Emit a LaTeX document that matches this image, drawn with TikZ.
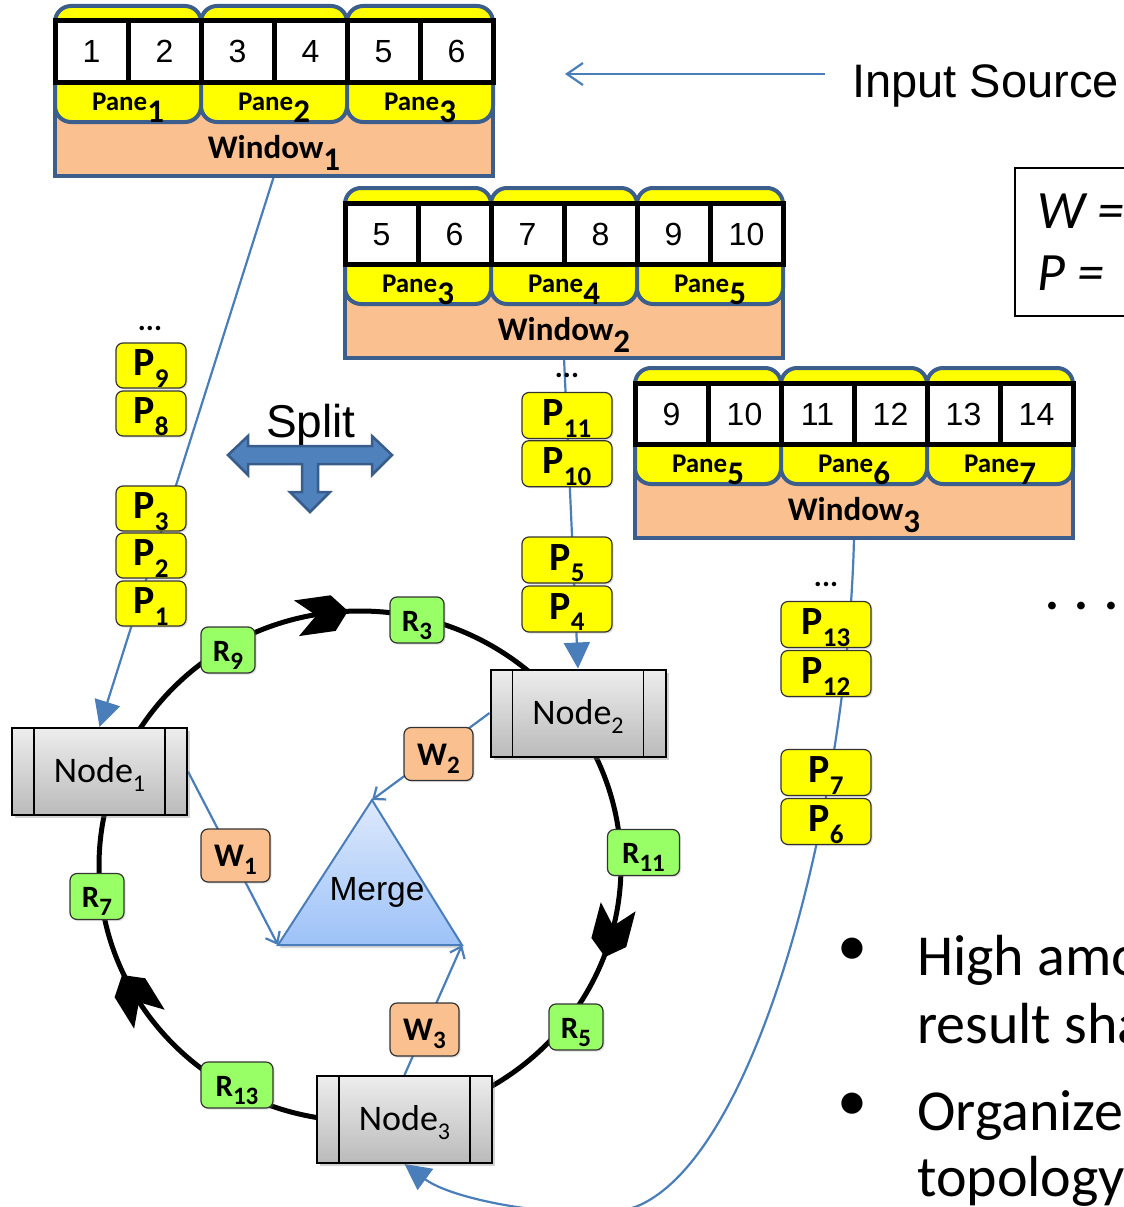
\documentclass[tikz,border=0pt]{standalone}
\usepackage{fontspec}
\setmainfont{Carlito}
\newfontfamily\arialfont{Liberation Sans}
\usetikzlibrary{arrows.meta,shadows,calc}

\definecolor{paneyellow}{HTML}{FFFF00}
\definecolor{paneblue}{HTML}{3B5E8C}
\definecolor{winorange}{HTML}{FAC090}
\definecolor{flowblue}{HTML}{4A7EBB}
\definecolor{rgreen}{HTML}{99FF66}
\definecolor{splitfill}{HTML}{4F81BD}
\definecolor{splitedge}{HTML}{385D8A}
\definecolor{mergetop}{HTML}{DDE9FC}
\definecolor{mergebot}{HTML}{9DC2F8}

\pgfdeclarelayer{back}
\pgfsetlayers{back,main}

% subscripts of the various labels
\newcommand\paneidx[1]{\raisebox{-12pt}{\fontsize{33}{33}\selectfont\bfseries #1}}
\newcommand\pkidx[1]{\raisebox{-11.5pt}{\fontsize{27}{27}\selectfont\bfseries #1}}
\newcommand\tagidx[1]{\raisebox{-8pt}{\fontsize{25}{25}\selectfont\bfseries #1}}
\newcommand\nodeidx[1]{\raisebox{-9pt}{\fontsize{24}{24}\selectfont #1}}

\tikzset{
  winrect/.style={draw=paneblue, line width=4pt, fill=winorange, minimum width=438pt,
    minimum height=110pt, inner sep=0pt, outer sep=0pt},
  panebox/.style={draw=paneblue, line width=4pt, fill=paneyellow, rounded corners=16pt},
  cellbox/.style={draw=black, line width=5pt, fill=white, minimum width=73pt,
    minimum height=61pt, inner sep=0pt, outer sep=0pt,
    font=\arialfont\fontsize{32}{32}\selectfont, text height=23pt, text depth=0pt},
  panelabel/.style={inner sep=0pt, font=\fontsize{27}{27}\selectfont\bfseries,
    text height=17pt, text depth=0pt},
  winlabel/.style={inner sep=0pt, font=\fontsize{33}{33}\selectfont\bfseries,
    text height=21pt, text depth=0pt},
  tagbase/.style={draw=black!80, line width=1.2pt, rounded corners=7pt, inner sep=0pt,
    drop shadow={opacity=0.25, shadow xshift=1.5pt, shadow yshift=-1.5pt}},
  pkt/.style={tagbase, fill=paneyellow, minimum width=70pt, minimum height=45pt,
    font=\fontsize{40}{40}\selectfont\bfseries, text height=25pt, text depth=5pt},
  pktwide/.style={pkt, minimum width=90pt, minimum height=46pt},
  res/.style={tagbase, fill=rgreen, minimum width=54pt, minimum height=46pt,
    font=\fontsize{31}{31}\selectfont\bfseries, text height=22pt, text depth=0pt},
  reswide/.style={res, minimum width=72pt},
  wres/.style={tagbase, fill=winorange, minimum width=69pt, minimum height=53pt,
    font=\fontsize{33}{33}\selectfont\bfseries, text height=22pt, text depth=0pt},
  proc/.style={draw=black, line width=2pt, top color=black!7, bottom color=black!27,
    minimum width=175pt, minimum height=87pt, inner sep=0pt,
    font=\fontsize{36}{36}\selectfont, text height=23pt, text depth=1pt,
    drop shadow={opacity=0.35, shadow xshift=3pt, shadow yshift=-3pt},
    path picture={
      \draw[line width=1.6pt] ([xshift=22pt]path picture bounding box.north west)
        -- ([xshift=22pt]path picture bounding box.south west);
      \draw[line width=1.6pt] ([xshift=-22pt]path picture bounding box.north east)
        -- ([xshift=-22pt]path picture bounding box.south east);
    }},
  ring/.style={draw=black, line width=5pt},
  flow/.style={draw=flowblue, line width=2.2pt},
  bigtip/.style={-{Triangle[length=26pt,width=26pt]}},
  opentip/.style={-{Straight Barb[length=10pt,width=16pt]}},
  srctip/.style={-{Straight Barb[length=16pt,width=22pt]}},
  dots/.style={inner sep=0pt, font=\fontsize{30}{30}\selectfont\bfseries},
  ringhead/.pic={\fill (0pt,0pt) -- (-15pt,18pt) -- (-52pt,18pt) -- (-32pt,0pt)
    -- (-52pt,-18pt) -- (-15pt,-18pt) -- cycle;}
}

% one sliding window: #1 name, #2 left x, #3 top y, #4 first pane, #5 window number
\newcommand{\timewindow}[5]{%
  \node[winrect, anchor=south west] (#1) at (#2,#3+170) {};
  \foreach \k in {0,1,2}{%
    \pgfmathtruncatemacro{\pn}{#4+\k}%
    \draw[panebox] ({#2+146*\k},#3) rectangle ({#2+146*(\k+1)},#3+116);
    \node[panelabel] (#1pane\k) at ({#2+73+146*\k},#3+96) {Pane\paneidx{\pn}};
  }
  \foreach \j in {0,...,5}{%
    \pgfmathtruncatemacro{\cn}{2*#4-1+\j}%
    \node[cellbox, anchor=north west] (#1cell\j) at ({#2+73*\j},#3+15) {\cn};
  }
  \node[winlabel] (#1label) at ({#2+219},#3+142) {Window\paneidx{#5}};
}

\begin{document}
\begin{tikzpicture}[x=1pt, y=-1pt]
\useasboundingbox (0,0) rectangle (1124,1207);
\clip (0,0) rectangle (1124,1207);

% sliding windows
\timewindow{w1}{55}{6}{1}{1}
\timewindow{w2}{345}{188}{3}{2}
\timewindow{w3}{635}{368}{5}{3}

% input source
\node[anchor=base west, inner sep=0pt, font=\arialfont\fontsize{47}{47}\selectfont]
  (src) at (852,97) {Input Source};
\coordinate (srcend) at (825,74);
\coordinate (srctip) at (565,74);

% W / P legend
\node[draw, line width=1.8pt, minimum width=160pt, minimum height=148pt, inner sep=0pt,
  outer sep=0pt, anchor=north west] (legend) at (1015,168) {};
\node[anchor=base west, inner sep=0pt, font=\fontsize{54}{54}\selectfont\itshape]
  (weq) at (1037,228) {W =};
\node[anchor=base west, inner sep=0pt, font=\fontsize{54}{54}\selectfont\itshape]
  (peq) at (1037,290) {P =};

% pane streams
\node[dots] (dotsa) at (150,328) {...};
\node[pkt] (p9) at (151,365.5) {P\pkidx{9}};
\node[pkt] (p8) at (151,413.5) {P\pkidx{8}};
\node[pkt] (p3) at (151,508.5) {P\pkidx{3}};
\node[pkt] (p2) at (151,555.5) {P\pkidx{2}};
\node[pkt] (p1) at (151,603.5) {P\pkidx{1}};

\node[dots] (dotsb) at (567,375) {...};
\node[pktwide] (p11) at (567,415.5) {P\pkidx{11}};
\node[pktwide] (p10) at (567,463.7) {P\pkidx{10}};
\node[pktwide] (p5) at (567,560) {P\pkidx{5}};
\node[pktwide] (p4) at (567,609) {P\pkidx{4}};

\node[dots] (dotsc) at (826,584) {...};
\node[pktwide] (p13) at (826,624.5) {P\pkidx{13}};
\node[pktwide] (p12) at (826,673.5) {P\pkidx{12}};
\node[pktwide] (p7) at (826,772.5) {P\pkidx{7}};
\node[pktwide] (p6) at (826,821.5) {P\pkidx{6}};

\node[anchor=base west, inner sep=0pt, font=\fontsize{52}{52}\selectfont\bfseries]
  (more) at (1045,609) {. . .};

% split symbol
\node[anchor=base, inner sep=0pt, font=\arialfont\fontsize{46}{46}\selectfont]
  (splitlbl) at (311,437) {Split};
\draw[fill=splitfill, draw=splitedge, line width=2.5pt]
  (228,455) -- (248,436) -- (248,446) -- (372,446) -- (372,436) -- (392,455)
  -- (372,475) -- (372,464) -- (318,464) -- (318,492) -- (330,492) -- (310,512)
  -- (290,492) -- (302,492) -- (302,464) -- (248,464) -- (248,475) -- cycle;

% processing nodes
\node[proc] (n1) at (99.5,771.5) {Node\nodeidx{1}};
\node[proc] (n2) at (578,713) {Node\nodeidx{2}};
\node[proc] (n3) at (404.5,1119.5) {Node\nodeidx{3}};

% results on the ring
\node[res] (r9) at (228,650) {R\tagidx{9}};
\node[res] (r3) at (417,620) {R\tagidx{3}};
\node[reswide] (r11) at (643.5,852.5) {R\tagidx{11}};
\node[res] (r5) at (576,1027) {R\tagidx{5}};
\node[reswide] (r13) at (237,1085) {R\tagidx{13}};
\node[res] (r7) at (97,896.5) {R\tagidx{7}};

% window results
\node[wres] (wa) at (235.5,855.5) {W\tagidx{1}};
\node[wres] (wb) at (438.5,754) {W\tagidx{2}};
\node[wres] (wc) at (424.5,1029.5) {W\tagidx{3}};

% ring direction marks
\pic[rotate=8] at (348,611) {ringhead};
\pic[rotate=-104.7] at (605,957) {ringhead};
\pic[rotate=121.8] at (122,975) {ringhead};

% merge triangle
\coordinate (mtop) at (372,800);
\coordinate (mleft) at (278,945);
\coordinate (mright) at (462,945);
\node[anchor=base, inner sep=0pt, font=\arialfont\fontsize{33.5}{33.5}\selectfont]
  (mergelbl) at (377,900) {Merge};

% bullets
\node[inner sep=0pt, font=\fontsize{60}{60}\selectfont] (b1) at (852,952) {\textbullet};
\node[inner sep=0pt, font=\fontsize{60}{60}\selectfont] (b2) at (852,1107) {\textbullet};
\node[anchor=base west, inner sep=0pt, font=\fontsize{58}{58}\selectfont] (t1) at (917,975) {High amo};
\node[anchor=base west, inner sep=0pt, font=\fontsize{58}{58}\selectfont] (t2) at (917,1043) {result sha};
\node[anchor=base west, inner sep=0pt, font=\fontsize{58}{58}\selectfont] (t3) at (917,1130) {Organize};
\node[anchor=base west, inner sep=0pt, font=\fontsize{58}{58}\selectfont] (t4) at (917,1196) {topology};

\begin{pgfonlayer}{back}
  \draw[ring] (360,866) ellipse [x radius=261pt, y radius=255pt];
  \path[draw=flowblue, line width=2pt, top color=mergetop, bottom color=mergebot,
    drop shadow={opacity=0.3, shadow xshift=2pt, shadow yshift=-3pt}]
    (mtop) -- (mright) -- (mleft) -- cycle;
  \draw[flow, bigtip] (w1.south) -- (n1.north);
  \draw[flow, bigtip] (w2.south) -- (n2.north);
  \draw[flow, bigtip] (w3.south) .. controls (848,800) and (760,1150) .. (640,1205)
    .. controls (600,1224) and (460,1205) .. (n3.south);
  \draw[flow, opentip] (n1.east) -- (mleft);
  \draw[flow, opentip] (n2.west) -- (mtop);
  \draw[flow, opentip] (n3.north) -- (mright);
  \draw[flow, srctip] (srcend) -- (srctip);
\end{pgfonlayer}
\end{tikzpicture}
\end{document}
